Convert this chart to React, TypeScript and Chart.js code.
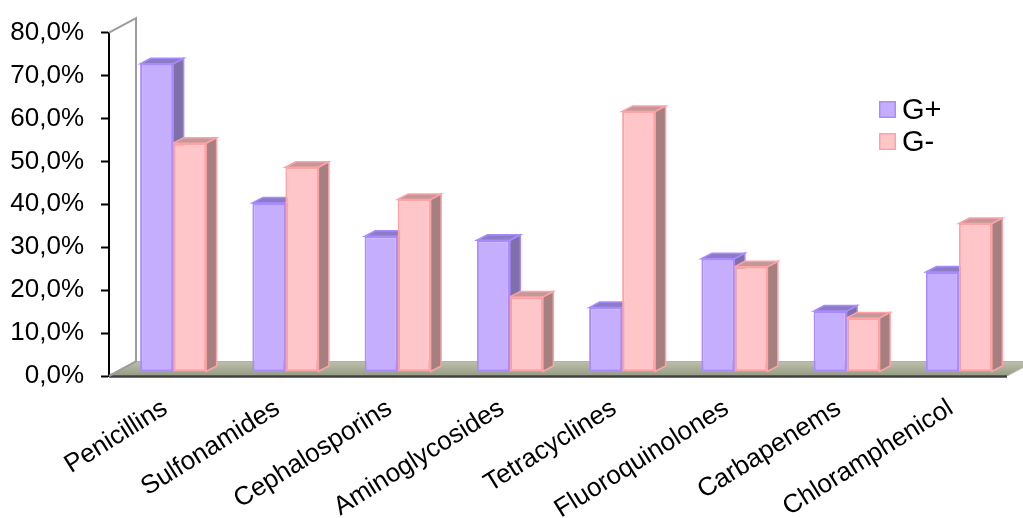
import React, { useEffect, useRef } from 'react';
import { Chart, registerables } from 'chart.js';

Chart.register(...registerables);

// Antibiotic classes and resistance shares (%) for Gram-positive / Gram-negative isolates
const categories = [
  'Penicillins',
  'Sulfonamides',
  'Cephalosporins',
  'Aminoglycosides',
  'Tetracyclines',
  'Fluoroquinolones',
  'Carbapenems',
  'Chloramphenicol',
];
const gramPositive = [71.8, 39.4, 31.6, 30.7, 15.0, 26.4, 14.2, 23.3];
const gramNegative = [53.3, 47.7, 40.2, 17.5, 60.7, 24.5, 12.6, 34.6];
const seriesLabels = ['G+', 'G-'];
const yMin = 0;
const yMax = 80;
const yStep = 10;

// Face colours of the extruded bars
const PURPLE = { front: '#c6aeff', border: '#a98bff', side: '#7f70a8', top: '#8c7bc6' };
const PINK = { front: '#ffc6c9', border: '#ffa2a6', side: '#a68081', top: '#c39899' };

// Pseudo-3D geometry (pixels)
const WALL_DX = 27;
const WALL_DY = -14.5;
const BAR_SHIFT_X = 8;
const BAR_SHIFT_Y = -4;
const BAR_DX = 10.5;
const BAR_DY = -5.5;

const FONT_FAMILY = "'Liberation Sans', Arial, sans-serif";

const fmtPercent = (v: number) => v.toFixed(1).replace('.', ',') + '%';

const box3d = {
  id: 'box3d',
  beforeDatasetsDraw(chart: any) {
    const { ctx, chartArea: a } = chart;
    const yScale = chart.scales.y;
    const top = yScale.getPixelForValue(yMax);
    const base = yScale.getPixelForValue(yMin);

    ctx.save();
    // floor
    const grad = ctx.createLinearGradient(0, base + WALL_DY, 0, base);
    grad.addColorStop(0, '#bcc0ab');
    grad.addColorStop(1, '#959b84');
    ctx.beginPath();
    ctx.moveTo(a.left, base);
    ctx.lineTo(a.right, base);
    ctx.lineTo(a.right + WALL_DX, base + WALL_DY);
    ctx.lineTo(a.left + WALL_DX, base + WALL_DY);
    ctx.closePath();
    ctx.fillStyle = grad;
    ctx.fill();
    ctx.strokeStyle = '#b0b0b0';
    ctx.lineWidth = 1;
    ctx.stroke();

    // front edge of the floor
    ctx.beginPath();
    ctx.moveTo(a.left, base + 0.5);
    ctx.lineTo(a.right, base + 0.5);
    ctx.strokeStyle = '#404040';
    ctx.lineWidth = 2.5;
    ctx.stroke();

    // back wall outline
    ctx.beginPath();
    ctx.moveTo(a.left, top);
    ctx.lineTo(a.left + WALL_DX, top + WALL_DY);
    ctx.lineTo(a.left + WALL_DX, base + WALL_DY);
    ctx.lineTo(a.left, base);
    ctx.strokeStyle = '#9c9c9c';
    ctx.lineWidth = 2;
    ctx.stroke();

    // side and top faces of every bar, fronts are drawn afterwards by the controller
    ctx.translate(BAR_SHIFT_X, BAR_SHIFT_Y);
    chart.data.datasets.forEach((ds: any, i: number) => {
      const meta = chart.getDatasetMeta(i);
      const faces = ds.faces;
      meta.data.forEach((bar: any) => {
        const { x, y, base: b, width } = bar.getProps(['x', 'y', 'base', 'width'], true);
        const l = x - width / 2;
        const r = x + width / 2;
        ctx.lineWidth = 1.5;
        ctx.strokeStyle = faces.border;

        ctx.beginPath();
        ctx.moveTo(r, y);
        ctx.lineTo(r + BAR_DX, y + BAR_DY);
        ctx.lineTo(r + BAR_DX, b + BAR_DY);
        ctx.lineTo(r, b);
        ctx.closePath();
        ctx.fillStyle = faces.side;
        ctx.fill();
        ctx.stroke();

        ctx.beginPath();
        ctx.moveTo(l, y);
        ctx.lineTo(l + BAR_DX, y + BAR_DY);
        ctx.lineTo(r + BAR_DX, y + BAR_DY);
        ctx.lineTo(r, y);
        ctx.closePath();
        ctx.fillStyle = faces.top;
        ctx.fill();
        ctx.stroke();
      });
    });
    ctx.restore();
  },
  beforeDatasetDraw(chart: any) {
    chart.ctx.save();
    chart.ctx.translate(BAR_SHIFT_X, BAR_SHIFT_Y);
  },
  afterDatasetDraw(chart: any) {
    chart.ctx.restore();
  },
  afterDraw(chart: any) {
    // legend
    const { ctx } = chart;
    ctx.save();
    ctx.font = `29px ${FONT_FAMILY}`;
    ctx.textBaseline = 'middle';
    ctx.textAlign = 'left';
    chart.data.datasets.forEach((ds: any, i: number) => {
      const y = 101 + i * 32;
      ctx.fillStyle = ds.backgroundColor;
      ctx.fillRect(879, y, 17, 17);
      ctx.strokeStyle = ds.borderColor;
      ctx.lineWidth = 1.5;
      ctx.strokeRect(879.75, y + 0.75, 15.5, 15.5);
      ctx.fillStyle = '#000';
      ctx.fillText(ds.label, 902, y + 10);
    });
    ctx.restore();
  },
};

export default function App() {
  const canvasRef = useRef<HTMLCanvasElement | null>(null);

  useEffect(() => {
    document.body.style.margin = '0';
    const canvas = canvasRef.current;
    if (!canvas) return;

    const makeDataset = (label: string, data: number[], faces: any) => ({
      label,
      data,
      faces,
      backgroundColor: faces.front,
      borderColor: faces.border,
      borderWidth: 2,
      borderSkipped: false,
      barPercentage: 1.0,
      categoryPercentage: 0.588,
      clip: false,
    });

    const chart = new Chart(canvas, {
      type: 'bar',
      data: {
        labels: categories,
        datasets: [
          makeDataset(seriesLabels[0], gramPositive, PURPLE),
          makeDataset(seriesLabels[1], gramNegative, PINK),
        ] as any,
      },
      options: {
        responsive: false,
        maintainAspectRatio: false,
        animation: false,
        layout: { padding: { top: 32, right: 16, left: 0, bottom: 0 } },
        plugins: {
          legend: { display: false },
          tooltip: { enabled: false },
        },
        scales: {
          x: {
            type: 'category',
            offset: true,
            grid: { display: false },
            border: { display: false },
            ticks: {
              color: '#000',
              autoSkip: false,
              minRotation: 32,
              maxRotation: 32,
              padding: 9,
              font: { family: FONT_FAMILY, size: 26 },
            },
            afterFit: (scale: any) => {
              scale.height = 142;
            },
          },
          y: {
            min: yMin,
            max: yMax,
            grid: {
              drawOnChartArea: false,
              drawTicks: true,
              tickLength: 8,
              tickColor: '#000',
              tickWidth: 2,
            },
            border: { display: true, color: '#000', width: 2 },
            ticks: {
              stepSize: yStep,
              color: '#000',
              padding: 17,
              font: { family: FONT_FAMILY, size: 26 },
              callback: (v: any) => fmtPercent(Number(v)),
            },
            afterFit: (scale: any) => {
              scale.width = 109;
            },
          },
        },
      },
      plugins: [box3d],
    });

    return () => chart.destroy();
  }, []);

  return (
    <div style={{ width: 1023, height: 518, background: '#fff' }}>
      <canvas ref={canvasRef} width={1023} height={518} style={{ display: 'block' }} />
    </div>
  );
}
